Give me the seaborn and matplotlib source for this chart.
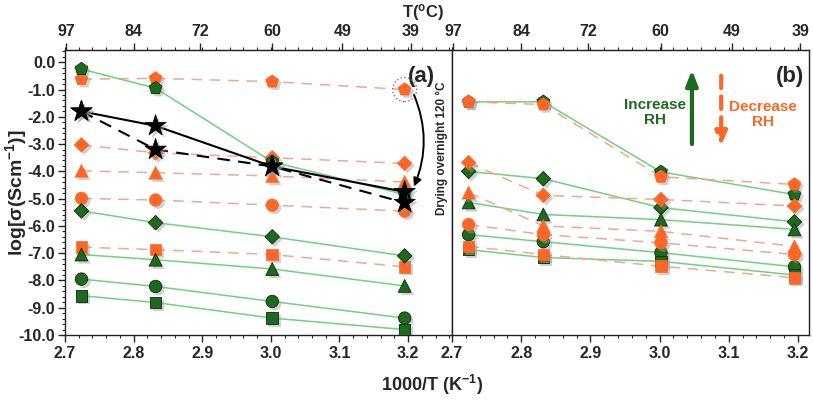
import numpy as np
import pandas as pd
import matplotlib
matplotlib.use("Agg")
import matplotlib.pyplot as plt
import matplotlib.patheffects as pe
from matplotlib.ticker import MultipleLocator, AutoMinorLocator
import seaborn as sns

# ---------------- data ----------------
inv_T = [2.724, 2.832, 3.002, 3.195]          # 1000/T (K^-1)
bottom_ticks = [2.7, 2.8, 2.9, 3.0, 3.1, 3.2]
top_ticks_C = [97, 84, 72, 60, 49, 39]        # T (oC)
y_ticks = [0.0, -1.0, -2.0, -3.0, -4.0, -5.0, -6.0, -7.0, -8.0, -9.0, -10.0]
marker_kinds = ["p", "D", "^", "o", "s"]       # pentagon, diamond, triangle, circle, square

# panel (a)
a_inc_pentagon = [-0.25, -0.95, -3.65, -4.85]
a_inc_diamond = [-5.45, -5.88, -6.40, -7.10]
a_inc_triangle = [-7.05, -7.24, -7.58, -8.20]
a_inc_circle = [-7.95, -8.22, -8.77, -9.38]
a_inc_square = [-8.56, -8.81, -9.38, -9.80]
a_dec_pentagon = [-0.62, -0.59, -0.71, -1.00]
a_dec_diamond = [-3.03, -3.32, -3.50, -3.71]
a_dec_triangle = [-3.98, -4.05, -4.17, -4.39]
a_dec_circle = [-4.99, -5.05, -5.24, -5.46]
a_dec_square = [-6.78, -6.87, -7.05, -7.50]
a_dried_solid = [-1.80, -2.33, -3.82, -4.75]
a_dried_dashed = [-1.80, -3.20, -3.82, -5.15]

# panel (b)
b_inc_pentagon = [-1.45, -1.45, -4.02, -4.85]
b_inc_diamond = [-4.00, -4.27, -5.33, -5.85]
b_inc_triangle = [-5.14, -5.58, -5.77, -6.13]
b_inc_circle = [-6.32, -6.58, -6.98, -7.50]
b_inc_square = [-6.87, -7.16, -7.30, -7.80]
b_dec_pentagon = [-1.45, -1.55, -4.20, -4.48]
b_dec_diamond = [-3.68, -4.88, -5.03, -5.27]
b_dec_triangle = [-4.78, -6.00, -6.20, -6.75]
b_dec_circle = [-5.95, -6.32, -6.62, -7.05]
b_dec_square = [-6.75, -7.05, -7.48, -7.90]

# ---------------- style ----------------
sns.set_style("ticks")
plt.rcParams["font.family"] = ["Liberation Sans", "DejaVu Sans"]
plt.rcParams["font.weight"] = "bold"
plt.rcParams["mathtext.fontset"] = "custom"
plt.rcParams["mathtext.rm"] = "Liberation Sans:bold"
plt.rcParams["mathtext.bf"] = "Liberation Sans:bold"
plt.rcParams["mathtext.default"] = "bf"

GREEN_LINE = "#6fd27f"
GREEN_MK = "#1e691e"
ORANGE_MK = "#fd6726"
ORANGE_LINE = "#f4a78c"
SIZES = {"p": 95, "D": 55, "^": 85, "o": 80, "s": 70}
shadow = [pe.SimplePatchShadow(offset=(2, -2), shadow_rgbFace="#9a9a9a", alpha=0.45), pe.Normal()]

fig = plt.figure(figsize=(8.13, 4.01), dpi=100)
axA = fig.add_axes([65 / 813, 1 - 335 / 401, (452 - 65) / 813, 285 / 401])
axB = fig.add_axes([452 / 813, 1 - 335 / 401, (809 - 452) / 813, 285 / 401])


def draw_series(ax, ys, mk, kind, z):
    if kind == "inc":
        sns.lineplot(x=inv_T, y=ys, ax=ax, color=GREEN_LINE, lw=1.1, zorder=z, estimator=None)
        sns.scatterplot(x=inv_T, y=ys, ax=ax, marker=mk, s=SIZES[mk], color=GREEN_MK,
                        edgecolor="#0a2a0a", linewidth=0.6, zorder=z + 5, legend=False)
    else:
        sns.lineplot(x=inv_T, y=ys, ax=ax, color=ORANGE_LINE, lw=1.1, linestyle=(0, (7, 5)),
                     zorder=z, estimator=None)
        sns.scatterplot(x=inv_T, y=ys, ax=ax, marker=mk, s=SIZES[mk], color=ORANGE_MK,
                        edgecolor=ORANGE_MK, linewidth=0.5, zorder=z + 5, legend=False)
    ax.collections[-1].set_path_effects(shadow)


a_inc = [a_inc_pentagon, a_inc_diamond, a_inc_triangle, a_inc_circle, a_inc_square]
a_dec = [a_dec_pentagon, a_dec_diamond, a_dec_triangle, a_dec_circle, a_dec_square]
b_inc = [b_inc_pentagon, b_inc_diamond, b_inc_triangle, b_inc_circle, b_inc_square]
b_dec = [b_dec_pentagon, b_dec_diamond, b_dec_triangle, b_dec_circle, b_dec_square]

# panel (a): increasing-RH markers on top; panel (b): decreasing-RH markers on top
for ys, mk in zip(a_dec, marker_kinds):
    draw_series(axA, ys, mk, "dec", 2)
for ys, mk in zip(a_inc, marker_kinds):
    draw_series(axA, ys, mk, "inc", 3)
for ys, mk in zip(b_inc, marker_kinds):
    draw_series(axB, ys, mk, "inc", 2)
for ys, mk in zip(b_dec, marker_kinds):
    draw_series(axB, ys, mk, "dec", 3)

# dried samples (black stars)
sns.lineplot(x=inv_T, y=a_dried_solid, ax=axA, color="black", lw=1.5, zorder=20, estimator=None)
sns.lineplot(x=inv_T, y=a_dried_dashed, ax=axA, color="black", lw=1.5, linestyle=(0, (6, 4)),
             zorder=20, estimator=None)
for ys in (a_dried_solid, a_dried_dashed):
    sns.scatterplot(x=inv_T, y=ys, ax=axA, marker="*", s=260, color="black", edgecolor="black",
                    linewidth=0.5, zorder=21, legend=False)
    axA.collections[-1].set_path_effects(shadow)

# dotted circle around the sample that was dried, and the drying arrow
axA.scatter([inv_T[3]], [a_dec_pentagon[3]], s=300, facecolor="none", edgecolor="#777777",
            linestyle=":", linewidth=1.0, zorder=15)
axA.annotate("", xy=(inv_T[3] + 0.012, a_dried_solid[3] + 0.1),
             xytext=(inv_T[3] + 0.012, a_dec_pentagon[3] - 0.1),
             arrowprops=dict(arrowstyle="-|>", color="black", lw=1.4, mutation_scale=12,
                             connectionstyle="arc3,rad=-0.22"), zorder=22)
axA.text(0.975, 0.655, "Drying overnight 120 °C", transform=axA.transAxes, rotation=90,
         ha="center", va="center", fontsize=8.5, fontweight="bold")

# panel letters
axA.text(0.955, 0.945, "(a)", transform=axA.transAxes, ha="right", va="top", fontsize=16,
         fontweight="bold")
axB.text(0.985, 0.945, "(b)", transform=axB.transAxes, ha="right", va="top", fontsize=16,
         fontweight="bold")

# increase / decrease RH legend arrows
axB.annotate("", xy=(0.672, 0.93), xytext=(0.672, 0.67), xycoords="axes fraction",
             arrowprops=dict(arrowstyle="-|>,head_length=0.9,head_width=0.35", color=GREEN_MK,
                             lw=3, shrinkA=0, shrinkB=0))
axB.text(0.57, 0.78, "Increase\nRH", transform=axB.transAxes, ha="center", va="center",
         color=GREEN_MK, fontsize=11, fontweight="bold", linespacing=1.1)
axB.annotate("", xy=(0.754, 0.665), xytext=(0.754, 0.91), xycoords="axes fraction",
             arrowprops=dict(arrowstyle="-|>,head_length=0.8,head_width=0.35", color=ORANGE_MK,
                             lw=3, linestyle=(0, (3, 2)), shrinkA=0, shrinkB=0))
axB.text(0.87, 0.775, "Decrease\nRH", transform=axB.transAxes, ha="center", va="center",
         color=ORANGE_MK, fontsize=11, fontweight="bold", linespacing=1.1)

# axes formatting
for ax, right_lim in [(axA, 3.264), (axB, 3.216)]:
    ax.set_xlim(2.7, right_lim)
    ax.set_ylim(-10.0, 0.45)
    ax.set_xticks(bottom_ticks, [f"{t:.1f}" for t in bottom_ticks])
    ax.xaxis.set_minor_locator(MultipleLocator(0.02))
    ax.set_xlabel("")
    ax.set_ylabel("")
    for s in ax.spines.values():
        s.set_visible(True)
        s.set_linewidth(1.0)
        s.set_color("#222222")
    ax.tick_params(axis="x", which="major", direction="out", length=5, width=1,
                   labelsize=11.5, pad=3)
    ax.tick_params(axis="x", which="minor", direction="out", length=2.5, width=0.8)
    top = ax.secondary_xaxis("top")
    top.set_xticks([1000.0 / (t + 273.15) for t in top_ticks_C], [str(t) for t in top_ticks_C])
    top.xaxis.set_minor_locator(MultipleLocator(0.02))
    top.tick_params(axis="x", which="major", direction="out", length=5, width=1, labelsize=11.5,
                    pad=3)
    top.tick_params(axis="x", which="minor", direction="out", length=2.5, width=0.8)
    top.spines["top"].set_color("#222222")
    for lab in ax.get_xticklabels() + top.get_xticklabels():
        lab.set_fontweight("bold")

axA.set_yticks(y_ticks, [f"{t:.1f}" for t in y_ticks])
axA.yaxis.set_minor_locator(AutoMinorLocator(5))
axA.tick_params(axis="y", which="major", direction="out", length=5, width=1, labelsize=11.5, pad=2)
axA.tick_params(axis="y", which="minor", direction="out", length=2.5, width=0.8)
for lab in axA.get_yticklabels():
    lab.set_fontweight("bold")
axB.tick_params(axis="y", which="both", left=False, labelleft=False)

fig.text(0.020, 0.52, "log[σ(Scm$^{-1}$)]", rotation=90, ha="center", va="center",
         fontsize=14, fontweight="bold")
fig.text(0.532, 0.04, "1000/T (K$^{-1}$)", ha="center", va="center", fontsize=13,
         fontweight="bold")
fig.text(0.521, 0.968, "T($^{\\mathrm{o}}$C)", ha="center", va="center", fontsize=12,
         fontweight="bold")

fig.savefig("out.png", dpi=100, facecolor="white")
